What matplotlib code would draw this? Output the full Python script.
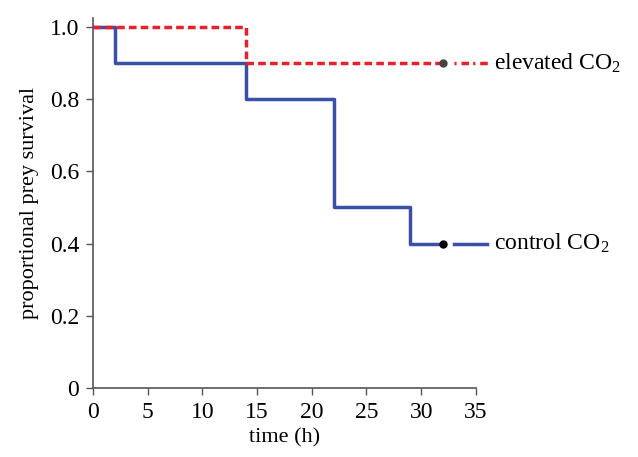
import matplotlib.pyplot as plt

# Kaplan-Meier style step data
control_t = [0, 2, 14, 22, 29, 32]
control_s = [1.0, 0.9, 0.8, 0.5, 0.4, 0.4]
elevated_t = [0, 14, 32]
elevated_s = [1.0, 0.9, 0.9]
control_tail = [33, 36]
elevated_tail = [33, 36.3]
xticks = [0, 5, 10, 15, 20, 25, 30, 35]
yticks = [0, 0.2, 0.4, 0.6, 0.8, 1.0]
ylabels = ['0', '0.2', '0.4', '0.6', '0.8', '1.0']

plt.rcParams['font.family'] = ['Liberation Serif', 'DejaVu Serif']
plt.rcParams['mathtext.fontset'] = 'stix'

fig = plt.figure(figsize=(6.38, 4.57), dpi=100)
ax = fig.add_axes([0.1458, 0.151, 0.6, 0.81])

blue = '#3a4fa8'
red = '#e8202a'

ax.step(control_t, control_s, where='post', color=blue, lw=2.5, zorder=3)
ax.plot([32], [0.4], 'o', color='black', ms=5, zorder=4, clip_on=False)
ax.plot(control_tail, [0.4, 0.4], color=blue, lw=2.5, clip_on=False)

ax.step(elevated_t, elevated_s, where='post', color=red, lw=2.5, ls=(0, (2.2, 1.2)), zorder=4)
ax.plot([32], [0.9], 'o', color='#444444', ms=5, zorder=5, clip_on=False)
ax.plot(elevated_tail, [0.9, 0.9], color=red, lw=2.5, ls=(0, (0.6, 1.4, 2.2, 1.2)), clip_on=False)

ax.text(36.7, 0.9, 'elevated CO$_\\mathregular{2}$', fontsize=17, va='center', ha='left')
ax.text(36.7, 0.4, 'control CO$_\\mathregular{2}$', fontsize=17, va='center', ha='left')

ax.set_xlim(0, 35)
ax.set_ylim(0, 1.025)
ax.set_xticks(xticks)
ax.set_yticks(yticks)
ax.set_yticklabels(ylabels)
ax.tick_params(labelsize=17, color='#555555', length=5, width=1, pad=5)
for s in ['top', 'right']:
    ax.spines[s].set_visible(False)
for s in ['left', 'bottom']:
    ax.spines[s].set_color('#555555')
    ax.spines[s].set_linewidth(1.2)
ax.set_xlabel('time (h)', fontsize=16, labelpad=4)
ax.set_ylabel('proportional prey survival', fontsize=16, labelpad=8)

fig.savefig('out.png', dpi=100)
